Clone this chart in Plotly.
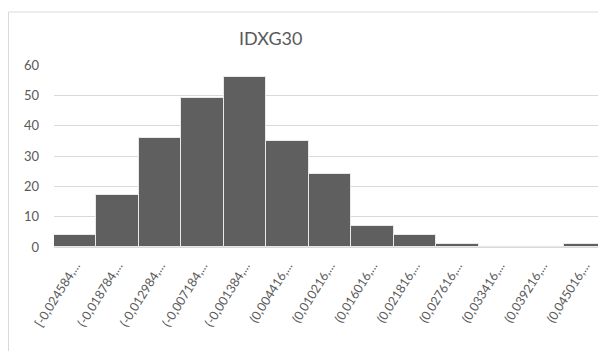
import plotly.graph_objects as go

categories = ["[-0,024584,...", "(-0,018784,...", "(-0,012984,...", "(-0,007184,...",
              "(-0,001384,...", "(0,004416,...", "(0,010216,...", "(0,016016,...",
              "(0,021816,...", "(0,027616,...", "(0,033416,...", "(0,039216,...",
              "(0,045016,..."]
counts = [4, 17, 36, 49, 56, 35, 24, 7, 4, 1, 0, 0, 1]
y_ticks = [0, 10, 20, 30, 40, 50, 60]

# page body has an 8px margin, so figure coordinates = screen coordinates - 8
W, H = 598, 343
L, R, T, B = 46, 0, 57, 104
pw, ph = W - L - R, H - T - B

fig = go.Figure(go.Bar(
    x=categories, y=counts,
    marker=dict(color="#5f5f5f", line=dict(color="#e8e8e8", width=1)),
))

fig.update_layout(
    width=W, height=H,
    margin=dict(l=L, r=R, t=T, b=B, autoexpand=False),
    paper_bgcolor="white", plot_bgcolor="white",
    bargap=0,
    showlegend=False,
    font=dict(family="Lato, Carlito, 'Liberation Sans', sans-serif", color="#595959", size=13),
    xaxis=dict(tickangle=-58, showgrid=False, showline=False, ticks="", automargin=False,
               ticklabelstandoff=8,
               tickfont=dict(size=12.5, color="#595959")),
    yaxis=dict(range=[0, 60], tickvals=y_ticks, showgrid=True, gridcolor="#d9d9d9",
               gridwidth=1, zeroline=True, zerolinecolor="#d9d9d9", showline=False,
               automargin=False,
               ticks="", ticklabelstandoff=14, tickfont=dict(size=13, color="#595959")),
    annotations=[dict(text="IDXG30", xref="paper", yref="paper",
                      x=(262 - L) / pw, y=1 + (T - 30) / ph, xanchor="center", yanchor="middle",
                      showarrow=False, font=dict(size=18, color="#595959"))],
    shapes=[dict(type="rect", xref="paper", yref="paper",
                 x0=(0.5 - L) / pw, x1=(W + 20 - L) / pw,
                 y0=-(H + 20 - T - ph) / ph, y1=1 + (T - 4) / ph,
                 line=dict(color="#d9d9d9", width=1), fillcolor="rgba(0,0,0,0)",
                 layer="below")],
)

fig.write_html("out.html")
